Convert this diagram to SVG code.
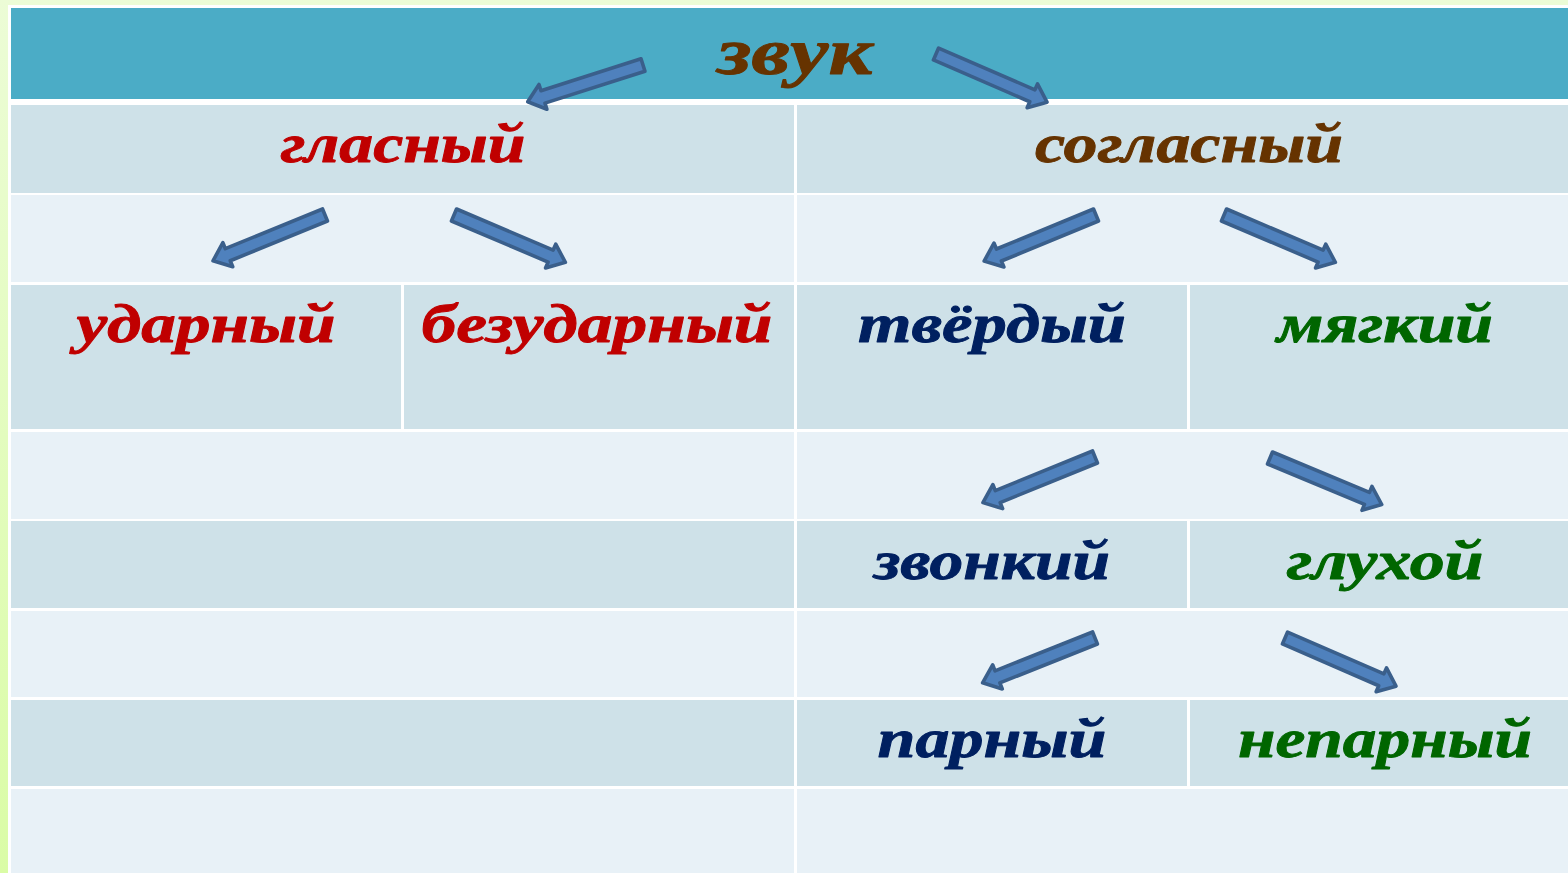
<svg xmlns="http://www.w3.org/2000/svg" xmlns:xlink="http://www.w3.org/1999/xlink" width="1568" height="873" viewBox="0 0 1568 873">
<defs>
<linearGradient id="bg" x1="0" y1="0" x2="0" y2="1">
<stop offset="0" stop-color="#ecfcd6"/>
<stop offset="1" stop-color="#dafca6"/>
</linearGradient>
<path id="arr" d="M0,-6.5 H105 V-13 L121,0 L105,13 V6.5 H0 Z"/>
<style>
.hd{fill:#4bacc6}
.dk{fill:#cee1e8}
.lt{fill:#e8f1f7}
.ar{fill:#4f81bd;stroke:#3a5f8b;stroke-width:3.6;stroke-linejoin:round}
text{font-family:"Liberation Serif","DejaVu Serif",serif;font-weight:bold;font-style:italic;text-anchor:middle;stroke-width:0.9;stroke-linejoin:round}
.t1{font-size:66px}
.t2{font-size:55px}
.brown{fill:#663300;stroke:#663300}
.red{fill:#c00000;stroke:#c00000}
.navy{fill:#002060;stroke:#002060}
.green{fill:#006600;stroke:#006600}
</style>
</defs>
<rect x="0" y="0" width="1568" height="873" fill="url(#bg)"/>
<rect x="8" y="5" width="1560" height="868" fill="#ffffff"/>
<g id="table">
<rect class="hd" x="11" y="8" width="1557" height="91"/>
<rect class="dk" x="11" y="105" width="783" height="88"/>
<rect class="dk" x="797" y="105" width="771" height="88"/>
<rect class="lt" x="11" y="195" width="783" height="87"/>
<rect class="lt" x="797" y="195" width="771" height="87"/>
<rect class="dk" x="11" y="285" width="390" height="144"/>
<rect class="dk" x="404" y="285" width="390" height="144"/>
<rect class="dk" x="797" y="285" width="390" height="144"/>
<rect class="dk" x="1190" y="285" width="378" height="144"/>
<rect class="lt" x="11" y="432" width="783" height="87"/>
<rect class="lt" x="797" y="432" width="771" height="87"/>
<rect class="dk" x="11" y="521" width="783" height="87"/>
<rect class="dk" x="797" y="521" width="390" height="87"/>
<rect class="dk" x="1190" y="521" width="378" height="87"/>
<rect class="lt" x="11" y="611" width="783" height="86"/>
<rect class="lt" x="797" y="611" width="771" height="86"/>
<rect class="dk" x="11" y="700" width="783" height="86"/>
<rect class="dk" x="797" y="700" width="390" height="86"/>
<rect class="dk" x="1190" y="700" width="378" height="86"/>
<rect class="lt" x="11" y="789" width="783" height="84"/>
<rect class="lt" x="797" y="789" width="771" height="84"/>
</g>
<g id="node-zvuk"><text class="t1 brown" x="795" y="74" textLength="155" lengthAdjust="spacingAndGlyphs">звук</text></g>
<g id="node-glasny"><text class="t2 red" x="403" y="162" textLength="245" lengthAdjust="spacingAndGlyphs">гласный</text></g>
<g id="node-soglasny"><text class="t2 brown" x="1189" y="162" textLength="308" lengthAdjust="spacingAndGlyphs">согласный</text></g>
<g id="node-udarny"><text class="t2 red" x="206" y="342" textLength="259" lengthAdjust="spacingAndGlyphs">ударный</text></g>
<g id="node-bezudarny"><text class="t2 red" x="597" y="342" textLength="351" lengthAdjust="spacingAndGlyphs">безударный</text></g>
<g id="node-tvyordy"><text class="t2 navy" x="992" y="342" textLength="268" lengthAdjust="spacingAndGlyphs">твёрдый</text></g>
<g id="node-myagky"><text class="t2 green" x="1385" y="342" textLength="216" lengthAdjust="spacingAndGlyphs">мягкий</text></g>
<g id="node-zvonky"><text class="t2 navy" x="992" y="579" textLength="236" lengthAdjust="spacingAndGlyphs">звонкий</text></g>
<g id="node-glukhoy"><text class="t2 green" x="1385" y="579" textLength="197" lengthAdjust="spacingAndGlyphs">глухой</text></g>
<g id="node-parny"><text class="t2 navy" x="992" y="757" textLength="229" lengthAdjust="spacingAndGlyphs">парный</text></g>
<g id="node-neparny"><text class="t2 green" x="1385" y="757" textLength="294" lengthAdjust="spacingAndGlyphs">непарный</text></g>
<g id="connectors">
<use class="ar" xlink:href="#arr" href="#arr" transform="translate(643,65) rotate(162.31)"/>
<use class="ar" xlink:href="#arr" href="#arr" transform="translate(936,54) rotate(23.45)"/>
<use class="ar" xlink:href="#arr" href="#arr" transform="translate(325,215) rotate(157.77)"/>
<use class="ar" xlink:href="#arr" href="#arr" transform="translate(454,215) rotate(23.02)"/>
<use class="ar" xlink:href="#arr" href="#arr" transform="translate(1096,215) rotate(157.59)"/>
<use class="ar" xlink:href="#arr" href="#arr" transform="translate(1224,215) rotate(23.02)"/>
<use class="ar" xlink:href="#arr" href="#arr" transform="translate(1095,457) rotate(157.85)"/>
<use class="ar" xlink:href="#arr" href="#arr" transform="translate(1270,458) rotate(22.59)"/>
<use class="ar" xlink:href="#arr" href="#arr" transform="translate(1095,638) rotate(158.28)"/>
<use class="ar" xlink:href="#arr" href="#arr" transform="translate(1285,638) rotate(23.45)"/>
</g>
</svg>
